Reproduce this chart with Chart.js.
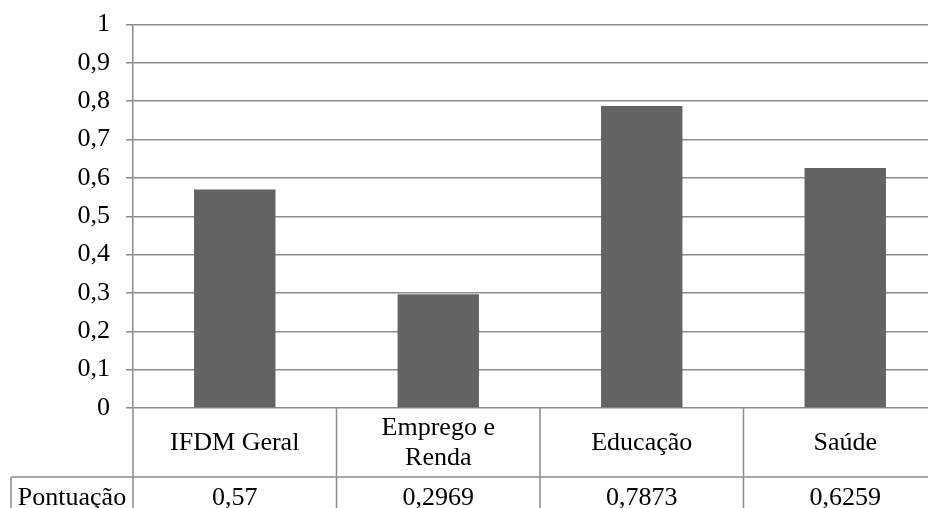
<!DOCTYPE html>
<html>
<head>
<meta charset="utf-8">
<script src="https://cdn.jsdelivr.net/npm/chart.js@4/dist/chart.umd.min.js"></script>
<style>
  html, body { margin: 0; padding: 0; background: #fff; overflow: hidden; }
  #wrap { position: relative; width: 947px; height: 508px; }
</style>
</head>
<body>
<div id="wrap"><canvas id="c"></canvas></div>
<script>
// Index scores by dimension
const categories = ['IFDM Geral', ['Emprego e', 'Renda'], 'Educação', 'Saúde'];
const scores = [0.57, 0.2969, 0.7873, 0.6259];
const valueLabels = ['0,57', '0,2969', '0,7873', '0,6259'];
const seriesName = 'Pontuação';

const FONT = "'Liberation Serif', 'Times New Roman', serif";
const LINE = '#8c8c8c';
const TABLE_BOTTOM_PAD = 100;   // space under the plot for the data table
const CAT_ROW_H = 69;           // height of the category-name row

// Data table drawn under the plot, aligned with the category scale
const dataTable = {
  id: 'dataTable',
  afterDraw(chart) {
    const ctx = chart.ctx;
    const x = chart.scales.x;
    const area = chart.chartArea;
    const H = chart.height;
    const top = area.bottom;
    const rowY = top + CAT_ROW_H;
    const half = (x.getPixelForValue(1) - x.getPixelForValue(0)) / 2;
    ctx.save();
    ctx.strokeStyle = LINE;
    ctx.lineWidth = 1.5;
    ctx.beginPath();
    // axis line continues down through the table
    ctx.moveTo(area.left, top); ctx.lineTo(area.left, H);
    // column separators
    for (let i = 0; i < categories.length; i++) {
      const bx = x.getPixelForValue(i) + half;
      ctx.moveTo(bx, top); ctx.lineTo(bx, H);
    }
    // row separator, including the series-name cell
    ctx.moveTo(11, rowY); ctx.lineTo(chart.width, rowY);
    ctx.moveTo(11, rowY); ctx.lineTo(11, H);
    ctx.stroke();

    ctx.fillStyle = '#000';
    ctx.font = '26px ' + FONT;
    ctx.textAlign = 'center';
    ctx.textBaseline = 'middle';
    categories.forEach((c, i) => {
      const cx = x.getPixelForValue(i);
      const lines = Array.isArray(c) ? c : [c];
      const lh = 30;
      const cy = top + CAT_ROW_H / 2 + 1;
      lines.forEach((t, k) => {
        ctx.fillText(t, cx, cy + (k - (lines.length - 1) / 2) * lh);
      });
      ctx.fillText(valueLabels[i], cx, rowY + 21);
    });
    ctx.fillText(seriesName, (11 + area.left) / 2, rowY + 21);
    ctx.restore();
  }
};

new Chart(document.getElementById('c'), {
  type: 'bar',
  data: {
    labels: categories,
    datasets: [{
      label: seriesName,
      data: scores,
      backgroundColor: '#636363',
      borderWidth: 0,
      barPercentage: 1,
      categoryPercentage: 0.4
    }]
  },
  options: {
    responsive: true,
    maintainAspectRatio: false,
    animation: false,
    layout: { padding: { top: 24.5, bottom: TABLE_BOTTOM_PAD, left: 0, right: 0 } },
    plugins: { legend: { display: false }, tooltip: { enabled: false } },
    scales: {
      x: { display: false },
      y: {
        min: 0,
        max: 1,
        afterFit(scale) {
          scale.width = 133;
          scale.paddingTop = 0;
          scale.paddingBottom = 0;
        },
        ticks: {
          stepSize: 0.1,
          padding: 16,
          color: '#000',
          font: { family: FONT, size: 26 },
          callback: v => (Math.round(v * 10) / 10).toString().replace('.', ',')
        },
        grid: { color: LINE, lineWidth: 1.5, tickLength: 7, drawTicks: true },
        border: { display: true, color: LINE, width: 1.5 }
      }
    }
  },
  plugins: [dataTable]
});
</script>
</body>
</html>
